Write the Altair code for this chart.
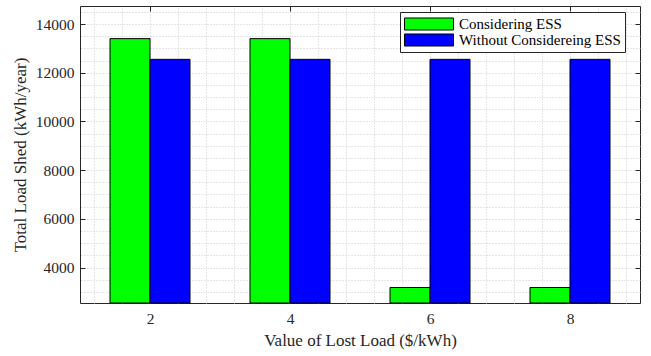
import altair as alt
import pandas as pd

# ---- data ----
vll = [2, 4, 6, 8]
considering = [13400, 13400, 3180, 3180]
without = [12550, 12550, 12550, 12550]
series_names = ["Considering ESS", "Without Considereing ESS"]
series_colors = ["#00ff00", "#0000ff"]

y_ticks = [4000, 6000, 8000, 10000, 12000, 14000]
x_ticks = [2, 4, 6, 8]
y_minor = [3000, 3500, 4000, 4500, 5000, 5500, 6000, 6500, 7000, 7500, 8000, 8500,
           9000, 9500, 10000, 10500, 11000, 11500, 12000, 12500, 13000, 13500, 14000, 14500]
x_minor = [1.2, 1.6, 2.0, 2.4, 2.8, 3.2, 3.6, 4.0, 4.4, 4.8, 5.2, 5.6, 6.0, 6.4,
           6.8, 7.2, 7.6, 8.0, 8.4, 8.8]
y_domain = [2544, 14740]
x_domain = [1, 9]

BW = 4 / 7  # bar width in x units (MATLAB grouped bar)
FONT = "Liberation Serif"
AX = "#262626"
GRID = "#cdcdcd"

df = pd.DataFrame({"vll": vll, series_names[0]: considering, series_names[1]: without})

base = alt.Chart(df).transform_fold(series_names, as_=["series", "value"]).transform_calculate(
    x0=f"datum.vll + (datum.series == '{series_names[0]}' ? {-BW} : 0)",
).transform_calculate(x1=f"datum.x0 + {BW}")

xs = alt.Scale(domain=x_domain, nice=False, zero=False)
ys = alt.Scale(domain=y_domain, nice=False, zero=False)

grid = base.mark_point(opacity=0).encode(
    x=alt.X("vll:Q", scale=xs, axis=alt.Axis(orient="top", grid=True, values=x_minor, labels=False,
                                             ticks=False, domain=False, title=None, gridDash=[1, 2],
                                             gridColor=GRID, gridWidth=1, zindex=0)),
    y=alt.Y("value:Q", scale=ys, axis=alt.Axis(orient="right", grid=True, values=y_minor, labels=False,
                                               ticks=False, domain=False, title=None, gridDash=[1, 2],
                                               gridColor=GRID, gridWidth=1, zindex=0)),
)

boxticks = base.mark_point(opacity=0).encode(
    x=alt.X("vll:Q", scale=xs, axis=alt.Axis(orient="top", values=x_ticks, labels=False, grid=False,
                                             domain=False, title=None, ticks=True, tickSize=5,
                                             offset=-5, tickColor=AX, zindex=0)),
    y=alt.Y("value:Q", scale=ys, axis=alt.Axis(orient="right", values=y_ticks, labels=False, grid=False,
                                               domain=False, title=None, ticks=True, tickSize=5,
                                               offset=-5, tickColor=AX, zindex=0)),
)

bars = base.mark_bar(stroke="black", strokeWidth=1).encode(
    x=alt.X("x0:Q", scale=xs, axis=alt.Axis(orient="bottom", values=x_ticks, grid=False, domain=False,
                                            tickSize=5, offset=-5, tickColor=AX, labelPadding=8,
                                            format="d",
                                            title="Value of Lost Load ($/kWh)", titlePadding=6,
                                            zindex=0)),
    x2="x1:Q",
    y=alt.Y("value:Q", scale=ys, axis=alt.Axis(orient="left", values=y_ticks, grid=False, domain=False,
                                               tickSize=5, offset=-5, tickColor=AX, labelPadding=6,
                                               format="d",
                                               title="Total Load Shed (kWh/year)", titlePadding=6,
                                               zindex=0)),
    y2=alt.datum(y_domain[0]),
    color=alt.Color("series:N", scale=alt.Scale(domain=series_names, range=series_colors),
                    legend=alt.Legend(title=None, orient="none", legendX=320, legendY=6,
                                      symbolType="M-1,-0.245H1V0.245H-1Z", symbolSize=2401,
                                      symbolStrokeColor="black", symbolStrokeWidth=1,
                                      labelFont=FONT, labelFontSize=15, labelColor="black",
                                      labelLimit=400, clipHeight=16,
                                      labelOffset=5, rowPadding=0, padding=4,
                                      strokeColor=AX, fillColor="white")),
)

chart = alt.layer(grid, bars, boxticks).resolve_axis(x="independent", y="independent").properties(
    width=560, height=297, autosize="none", background="white",
    padding={"left": 80, "top": 6, "right": 11, "bottom": 53},
).configure_view(stroke=AX, strokeWidth=1).configure_axis(
    labelFont=FONT, labelFontSize=15.5, labelColor=AX,
    titleFont=FONT, titleFontSize=17, titleFontWeight="normal", titleColor=AX,
)

chart.save("out.html", embed_options={"renderer": "svg", "actions": False})
